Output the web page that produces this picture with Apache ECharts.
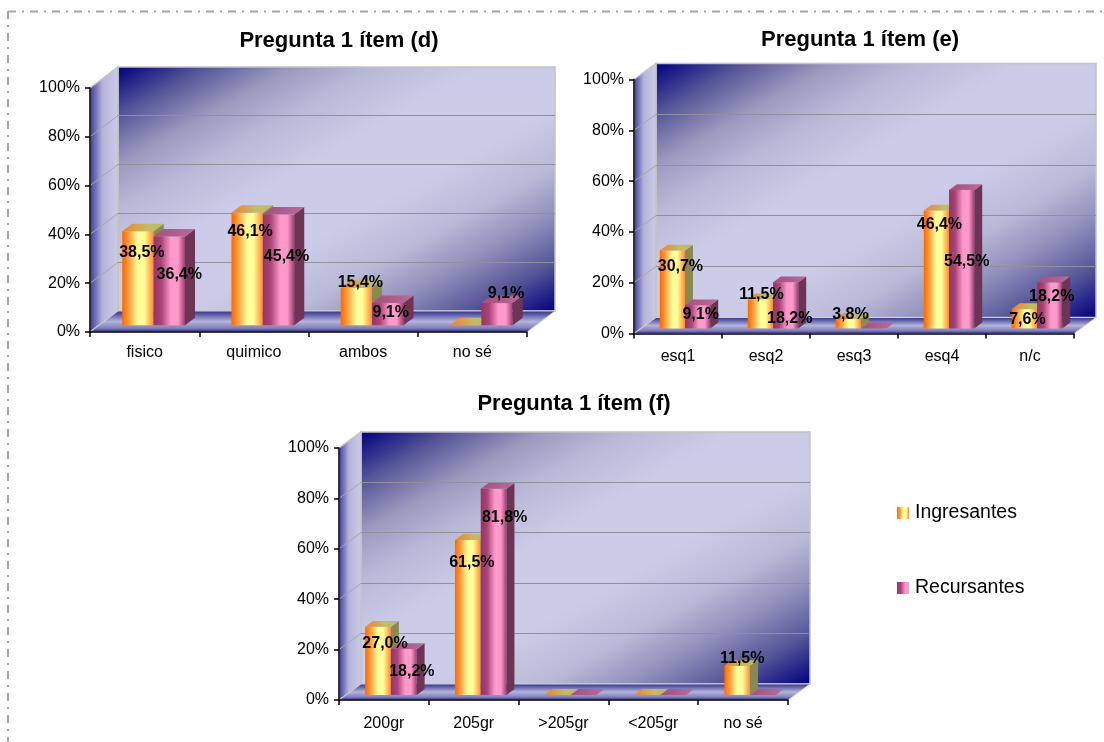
<!DOCTYPE html>
<html>
<head>
<meta charset="utf-8">
<title>Pregunta 1</title>
<script src="https://cdn.jsdelivr.net/npm/echarts@6/dist/echarts.min.js"></script>
<style>
  html, body { margin: 0; padding: 0; background: #fff; }
  #main { width: 1104px; height: 742px; }
</style>
</head>
<body>
<div id="main"></div>
<script>
  const yTicks = [0, 20, 40, 60, 80, 100];

  const categoriesD = ['fisico', 'quimico', 'ambos', 'no sé'];
  const ingresantesD = [38.5, 46.1, 15.4, 0];
  const recursantesD = [36.4, 45.4, 9.1, 9.1];

  const categoriesE = ['esq1', 'esq2', 'esq3', 'esq4', 'n/c'];
  const ingresantesE = [30.7, 11.5, 3.8, 46.4, 7.6];
  const recursantesE = [9.1, 18.2, 0, 54.5, 18.2];

  const categoriesF = ['200gr', '205gr', '>205gr', '<205gr', 'no sé'];
  const ingresantesF = [27.0, 61.5, 0, 0, 11.5];
  const recursantesF = [18.2, 81.8, 0, 0, 0];

  // the labels were dragged by hand in the original, so each one has its own nudge
  const nudgeIngD = [[4, 21], [3, 19], [4, -5], [0, 0]];
  const nudgeRecD = [[10, 38], [8, 42], [3, 10], [9, -9]];
  const nudgeIngE = [[8, 16], [1, -5], [2, -4], [3, 14], [3, 11]];
  const nudgeRecE = [[3, 9], [4, 36], [0, 0], [5, 72], [2, 14]];
  const nudgeIngF = [[7, 17], [4, 23], [0, 0], [0, 0], [5, -7]];
  const nudgeRecF = [[8, 23], [11, 29], [0, 0], [0, 0], [0, 0]];

  const panels = [
    { title: 'Pregunta 1 ítem (d)', titleX: 339, titleTop: 30, labelMargin: 13, left: 90, top: 88, width: 437, height: 244, dx: 28, dy: -21,
      categories: categoriesD, ing: ingresantesD, rec: recursantesD, nudgeIng: nudgeIngD, nudgeRec: nudgeRecD },
    { title: 'Pregunta 1 ítem (e)', titleX: 860, titleTop: 29, labelMargin: 15, left: 634, top: 79.5, width: 440, height: 254, dx: 22, dy: -16,
      categories: categoriesE, ing: ingresantesE, rec: recursantesE, nudgeIng: nudgeIngE, nudgeRec: nudgeRecE },
    { title: 'Pregunta 1 ítem (f)', titleX: 574, titleTop: 393, labelMargin: 16, left: 339, top: 448, width: 449, height: 252, dx: 22, dy: -16,
      categories: categoriesF, ing: ingresantesF, rec: recursantesF, nudgeIng: nudgeIngF, nudgeRec: nudgeRecF }
  ];

  const grad = (x, y, x2, y2, stops) =>
    new echarts.graphic.LinearGradient(x, y, x2, y2, stops.map((c) => ({ offset: c[0], color: c[1] })));

  const ingFront = grad(0, 0, 1, 0, [[0, '#ff6600'], [0.22, '#ffa040'], [0.5, '#ffff99'], [0.7, '#ffff99'], [1, '#ff8a30']]);
  const ingTop = grad(0, 0, 1, 0, [[0, '#f08030'], [0.6, '#c4bc66'], [1, '#b8b868']]);
  const ingSide = '#8a8a50';
  const recFront = grad(0, 0, 1, 0, [[0, '#993366'], [0.25, '#a84478'], [0.55, '#ff99cc'], [0.78, '#ff99cc'], [1, '#a03a70']]);
  const recTop = grad(0, 0, 1, 0, [[0, '#a84c80'], [1, '#b86c9a']]);
  const recSide = '#6e3355';
  const legendIng = grad(0, 0, 1, 0, [[0, '#ff6a1a'], [0.25, '#ffa040'], [0.55, '#ffff99'], [0.8, '#ffff99'], [1, '#ff7a26']]);
  const legendRec = grad(0, 0, 1, 0, [[0, '#993366'], [0.3, '#a84478'], [0.7, '#ff99cc'], [1, '#ff99cc']]);

  function renderWalls(panel) {
    return function (params, api) {
      const g = params.coordSys;
      const dx = panel.dx, dy = panel.dy;
      const x0 = g.x, x1 = g.x + g.width, y0 = g.y, y1 = g.y + g.height;
      const w = g.width, h = g.height;
      // the bands of the wall gradient run along the rising diagonal
      const k = 2 * w * h / (w * w + h * h);
      const back = new echarts.graphic.LinearGradient(x0 + dx, y0 + dy, x0 + dx + k * h, y0 + dy + k * w, [
        { offset: 0, color: '#00007f' },
        { offset: 0.1, color: '#555598' },
        { offset: 0.2, color: '#9a9abf' },
        { offset: 0.3, color: '#babad8' },
        { offset: 0.42, color: '#ccccE8' },
        { offset: 0.58, color: '#ccccE8' },
        { offset: 0.7, color: '#babad8' },
        { offset: 0.8, color: '#9090bc' },
        { offset: 0.9, color: '#555598' },
        { offset: 1, color: '#00007f' }
      ], true);
      const children = [
        { type: 'rect', shape: { x: x0 + dx, y: y0 + dy, width: w, height: h },
          style: { fill: back, stroke: '#c4c4c4', lineWidth: 1.5 } },
        { type: 'polygon', shape: { points: [[x0, y0], [x0 + dx, y0 + dy], [x0 + dx, y1 + dy], [x0, y1]] },
          style: { fill: grad(0, 0, 1, 0, [[0, '#34349a'], [0.45, '#b4b4da'], [1, '#ccccE8']]), stroke: '#c4c4c4', lineWidth: 1.5 } },
        { type: 'polygon', shape: { points: [[x0, y1], [x0 + dx, y1 + dy], [x1 + dx, y1 + dy], [x1, y1]] },
          style: { fill: grad(0, 0, 0, 1, [[0, '#2a2a8a'], [0.5, '#b4b4da'], [0.8, '#8080bc'], [1, '#20207a']]), stroke: '#d0d0d0', lineWidth: 1 } }
      ];
      yTicks.slice(1, -1).forEach((t) => {
        const y = api.coord([0, t])[1];
        const yBack = Math.floor(y + dy) + 0.5;
        children.push({ type: 'polyline', shape: { points: [[x0, y], [x0 + dx, yBack]] },
          style: { fill: null, stroke: '#a8a8a8', lineWidth: 1 } });
        children.push({ type: 'polyline', shape: { points: [[x0 + dx, yBack], [x1 + dx, yBack]] },
          style: { fill: null, stroke: '#90909c', lineWidth: 1 } });
      });
      return { type: 'group', children: children };
    };
  }

  function renderBars(panel, side, front, top, sideFill) {
    return function (params, api) {
      const i = api.value(0), v = api.value(1);
      const band = api.size([1, 0])[0];
      const bw = band * 0.287;
      const inX = panel.dx * 0.32, inY = panel.dy * 0.32;
      const ox = panel.dx * 0.36, oy = panel.dy * 0.36;
      const p = api.coord([i, v]);
      const b = api.coord([i, 0]);
      const cx = p[0] + inX + side * bw / 2;
      const x0 = cx - bw / 2, x1 = cx + bw / 2;
      const yTop = p[1] + inY, yBase = b[1] + inY;
      const children = [];
      if (v > 0) {
        children.push({ type: 'rect', shape: { x: x0, y: yTop, width: bw, height: yBase - yTop }, style: { fill: front } });
        children.push({ type: 'polygon', shape: { points: [[x1, yTop], [x1 + ox, yTop + oy], [x1 + ox, yBase + oy], [x1, yBase]] },
          style: { fill: sideFill } });
      }
      children.push({ type: 'polygon', shape: { points: [[x0, yTop], [x0 + ox, yTop + oy], [x1 + ox, yTop + oy], [x1, yTop]] },
        style: { fill: top } });
      return { type: 'group', children: children };
    };
  }

  // labels go in their own series so no bar can cover them
  function renderLabels(panel, side, nudges) {
    return function (params, api) {
      const i = api.value(0), v = api.value(1);
      if (!(v > 0)) return null;
      const bw = api.size([1, 0])[0] * 0.287;
      const p = api.coord([i, v]);
      const n = nudges[i];
      return { type: 'text',
        x: p[0] + panel.dx * 0.32 + side * bw / 2 + n[0],
        y: p[1] + panel.dy * 0.32 + n[1],
        style: { text: v.toFixed(1).replace('.', ',') + '%', font: 'bold 16px "Liberation Sans", Arial, sans-serif',
          fill: '#000', align: 'center', verticalAlign: 'middle' } };
    };
  }

  const grids = [], xAxes = [], yAxes = [], titles = [], series = [];

  panels.forEach((panel, idx) => {
    titles.push({ text: panel.title, left: panel.titleX, top: panel.titleTop, textAlign: 'center', padding: 0,
      textStyle: { fontFamily: '"Liberation Sans", Arial, sans-serif', fontSize: 22, fontWeight: 'bold', color: '#000' } });
    grids.push({ left: panel.left, top: panel.top, width: panel.width, height: panel.height });
    xAxes.push({ type: 'category', gridIndex: idx, data: panel.categories, z: 5,
      axisLine: { lineStyle: { color: '#000', width: 1.5 } },
      axisTick: { show: true, length: 5, alignWithLabel: false, lineStyle: { color: '#000', width: 1.5 } },
      axisLabel: { fontFamily: '"Liberation Sans", Arial, sans-serif', fontSize: 16, color: '#000', margin: panel.labelMargin, interval: 0 } });
    yAxes.push({ type: 'value', gridIndex: idx, min: 0, max: 100, interval: 20, z: 5,
      axisLine: { show: true, lineStyle: { color: '#000', width: 1.5 } },
      axisTick: { show: true, length: 5, lineStyle: { color: '#000', width: 1.5 } },
      splitLine: { show: false },
      axisLabel: { formatter: '{value}%', fontFamily: '"Liberation Sans", Arial, sans-serif', fontSize: 16, color: '#000', margin: 10, padding: [2, 0, 0, 0] } });
    const base = { type: 'custom', xAxisIndex: idx, yAxisIndex: idx, silent: true, clip: false };
    series.push(Object.assign({}, base, { name: 'walls' + idx, z: 1, data: [[0, 0]], renderItem: renderWalls(panel) }));
    series.push(Object.assign({}, base, { name: 'Ingresantes', z: 2, itemStyle: { color: legendIng },
      data: panel.ing.map((v, i) => [i, v]), renderItem: renderBars(panel, -1, ingFront, ingTop, ingSide) }));
    series.push(Object.assign({}, base, { name: 'Recursantes', z: 3, itemStyle: { color: legendRec },
      data: panel.rec.map((v, i) => [i, v]), renderItem: renderBars(panel, 1, recFront, recTop, recSide) }));
    series.push(Object.assign({}, base, { name: 'labelsIng' + idx, z: 4,
      data: panel.ing.map((v, i) => [i, v]), renderItem: renderLabels(panel, -1, panel.nudgeIng) }));
    series.push(Object.assign({}, base, { name: 'labelsRec' + idx, z: 4,
      data: panel.rec.map((v, i) => [i, v]), renderItem: renderLabels(panel, 1, panel.nudgeRec) }));
  });

  const myChart = echarts.init(document.getElementById('main'), null, { renderer: 'canvas' });
  myChart.setOption({
    animation: false,
    backgroundColor: '#fff',
    title: titles,
    grid: grids,
    xAxis: xAxes,
    yAxis: yAxes,
    legend: {
      orient: 'vertical', left: 897, top: 503, padding: 0, itemWidth: 12, itemHeight: 12, itemGap: 55, selectedMode: false,
      icon: 'rect',
      textStyle: { fontFamily: '"Liberation Sans", Arial, sans-serif', fontSize: 19.5, color: '#000', padding: [0, 0, 0, 1] },
      data: [
        { name: 'Ingresantes', itemStyle: { color: legendIng } },
        { name: 'Recursantes', itemStyle: { color: legendRec } }
      ]
    },
    graphic: [
      { type: 'polyline', shape: { points: [[8, 11.5], [1104, 11.5]] }, style: { fill: null, stroke: '#a6a6a6', lineWidth: 2, lineDash: [8, 6, 2, 6] } },
      { type: 'polyline', shape: { points: [[8, 11], [8, 742]] }, style: { fill: null, stroke: '#a6a6a6', lineWidth: 2, lineDash: [8, 6, 2, 6] } }
    ],
    series: series
  });
</script>
</body>
</html>
